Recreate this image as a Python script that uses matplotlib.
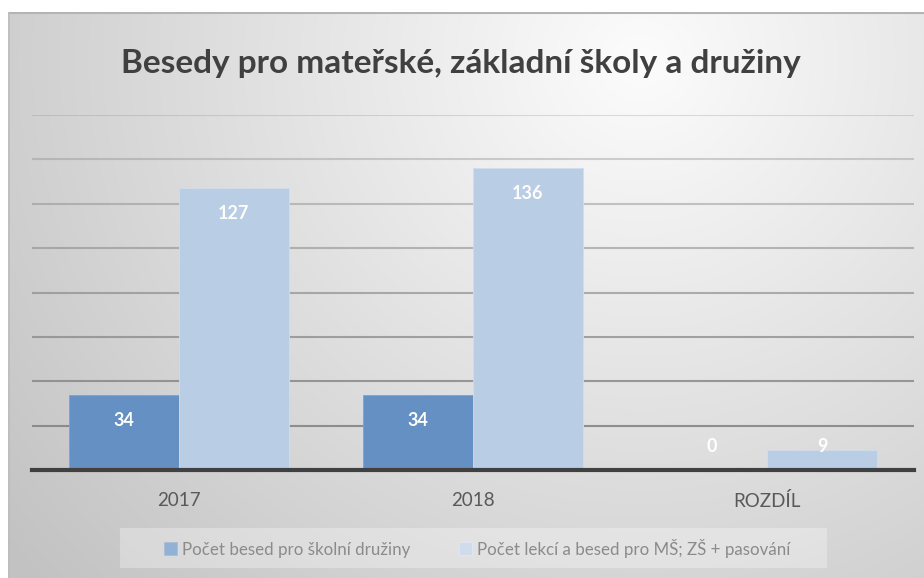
import numpy as np
import matplotlib
matplotlib.use("Agg")
import matplotlib.pyplot as plt
from matplotlib.patches import Rectangle

categories = ["2017", "2018", "ROZDÍL"]
series_names = ["Počet besed pro školní družiny",
                "Počet lekcí a besed pro MŠ; ZŠ + pasování"]
druziny = [34, 34, 0]
lekce = [127, 136, 9]
title = "Besedy pro mateřské, základní školy a družiny"

W, H = 924, 578
fig = plt.figure(figsize=(W / 100, H / 100), dpi=100)
fig.patch.set_facecolor("white")

# background gradient panel
bx0, by0 = 8, 12
bg = fig.add_axes([bx0 / W, 0, 1 - bx0 / W, 1 - by0 / H])
yy, xx = np.mgrid[by0:H, bx0:W]
cx, cy = 640, 60
d = np.sqrt(((xx - cx) / 1.0) ** 2 + ((yy - cy) / 0.95) ** 2)
val = 252 - 58 * np.clip(d / 820, 0, 1) ** 1.0
img = np.dstack([val, val, val]) / 255.0
bg.imshow(img, aspect="auto", extent=[0, 1, 0, 1], origin="upper")
bg.set_xlim(0, 1); bg.set_ylim(0, 1)
bg.axis("off")
bg.plot([0, 1], [1 - 1 / (H - by0)] * 2, color="#b4b4b4", lw=1.5, transform=bg.transAxes)
bg.plot([0.5 / (W - bx0)] * 2, [0, 1], color="#bdbdbd", lw=1.2, transform=bg.transAxes)

# legend box
fig.patches.append(Rectangle((120 / W, 1 - 568 / H), (827 - 120) / W, 40 / H,
                             transform=fig.transFigure, facecolor="white",
                             alpha=0.3, edgecolor="none", zorder=1))

# main axes
left, right, top, bottom = 32, 914, 115, 470
ax = fig.add_axes([left / W, 1 - bottom / H, (right - left) / W, (bottom - top) / H])
ax.patch.set_alpha(0)
x = np.arange(len(categories))
bw = 0.374
dark = "#6590c4"
light = "#b9cde5"
b1 = ax.bar(x - bw / 2, druziny, bw, color=dark, edgecolor="#7fa2cf", linewidth=0.6, label=series_names[0], zorder=3)
b2 = ax.bar(x + bw / 2, lekce, bw, color=light, edgecolor="#d0ddee", linewidth=0.6, label=series_names[1], zorder=3)
ax.set_xlim(-0.5, 2.5)
ax.set_ylim(0, 160)
grid_vals = np.arange(20, 161, 20)
for gv in grid_vals:
    a = 0.85 - 0.6 * (gv - 20) / 140
    ax.axhline(gv, color="#808080", lw=1.5, alpha=a, zorder=0)
for s in ["top", "right", "left"]:
    ax.spines[s].set_visible(False)
ax.spines["bottom"].set_color("#404040")
ax.spines["bottom"].set_linewidth(3)
ax.spines["bottom"].set_zorder(4)
ax.tick_params(axis="y", left=False, labelleft=False)
ax.tick_params(axis="x", bottom=False, pad=12, labelsize=13.5, labelcolor="#595959")
ax.set_xticks(x)
ax.set_xticklabels(categories, fontfamily="Lato")

for bars, vals in ((b1, druziny), (b2, lekce)):
    for rect, v in zip(bars, vals):
        ax.text(rect.get_x() + rect.get_width() / 2, max(v - 11.6, 10.4), str(v),
                ha="center", va="center", color="white", fontsize=13,
                fontweight="bold", fontfamily="Lato", zorder=5)

# title, sized to the reference width
t = fig.text(461 / W, 1 - 63 / H, title, ha="center", va="center", fontsize=30,
             fontweight="bold", color="#404040", fontfamily="Lato")
fig.canvas.draw()
wpx = t.get_window_extent().width
t.set_fontsize(30 * 680 / wpx)

leg = ax.legend(loc="center", bbox_to_anchor=((477 - left) / (right - left), (bottom - 548) / (bottom - top)),
                ncol=2, frameon=False,
                prop={"family": "Lato", "size": 12.2},
                handlelength=0.75, handleheight=0.75, handletextpad=0.3,
                columnspacing=2.9, borderpad=0.55)
for tx in leg.get_texts():
    tx.set_color("#595959")

fig.savefig("out.png", dpi=100)
